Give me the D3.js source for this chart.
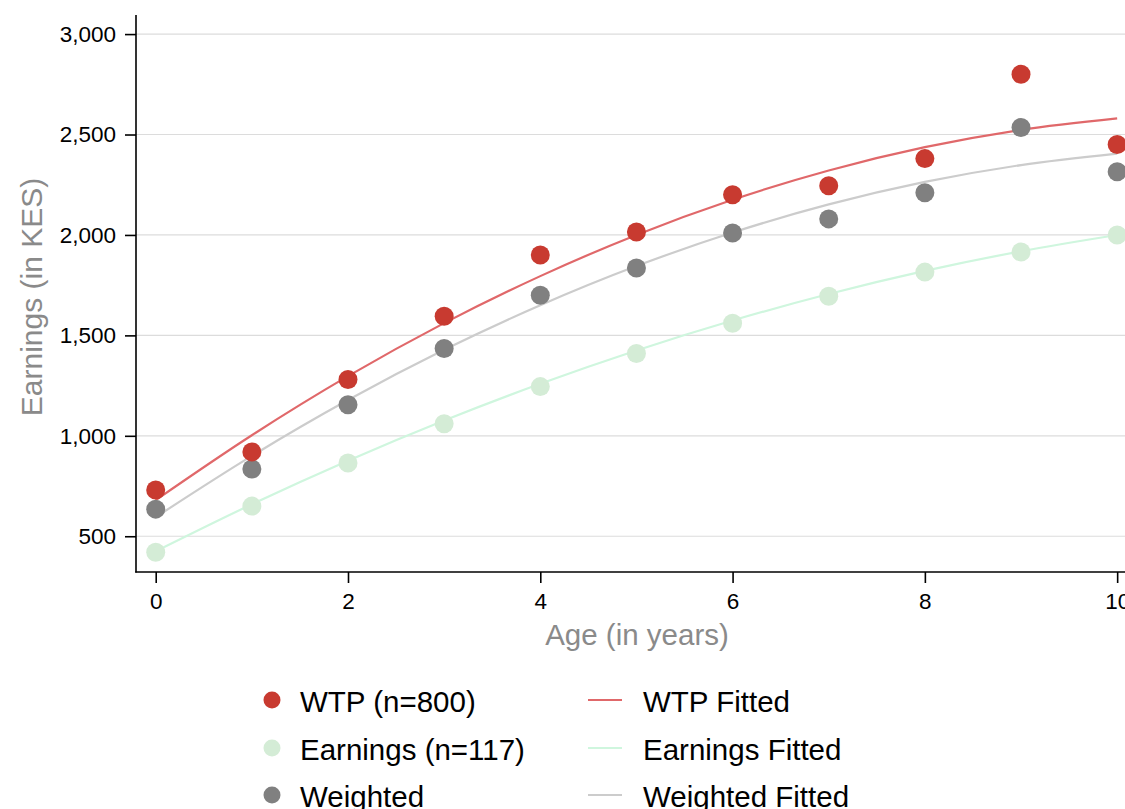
<!DOCTYPE html>
<html>
<head>
<meta charset="utf-8">
<script src="https://cdn.jsdelivr.net/npm/d3@7"></script>
<style>
  body { margin: 0; background: #fff; }
  svg { font-family: "Liberation Sans", Arial, Helvetica, sans-serif; }
</style>
</head>
<body>
<svg id="chart" width="1125" height="809"></svg>
<script>
const ages = [0, 1, 2, 3, 4, 5, 6, 7, 8, 9, 10]
const wtp = [730, 920, 1280, 1595, 1900, 2015, 2200, 2245, 2380, 2800, 2450]
const earnings = [420, 650, 865, 1060, 1245, 1410, 1560, 1695, 1815, 1915, 2000]
const weighted = [635, 835, 1155, 1435, 1700, 1835, 2010, 2080, 2210, 2535, 2315]
const wtpFitted = [680, 1003, 1297, 1561, 1795, 2000, 2175, 2321, 2437, 2523, 2580]
const earningsFitted = [425, 659, 876, 1076, 1259, 1425, 1574, 1706, 1821, 1919, 2000]
const weightedFitted = [595, 900, 1178, 1428, 1650, 1845, 2012, 2152, 2264, 2348, 2405]
const xTicks = [0, 2, 4, 6, 8, 10]
const yTicks = [500, 1000, 1500, 2000, 2500, 3000]

const series = [
    { name: 'WTP (n=800)', values: wtp, color: '#c83a30' },
    { name: 'Earnings (n=117)', values: earnings, color: '#d4ecd6' },
    { name: 'Weighted', values: weighted, color: '#808080' }
]
const fits = [
    { name: 'WTP Fitted', values: wtpFitted, color: '#e0686a' },
    { name: 'Earnings Fitted', values: earningsFitted, color: '#cff6de' },
    { name: 'Weighted Fitted', values: weightedFitted, color: '#cccccc' }
]

const svg = d3.select('#chart')

const xScale = d3.scaleLinear().domain([-0.205, 10.3]).range([136, 1146])
const yScale = d3.scaleLinear().domain([322, 3095]).range([572, 15])

// gridlines
svg.append('g')
    .selectAll('line')
    .data(yTicks)
    .join('line')
        .attr('x1', 136)
        .attr('x2', 1125)
        .attr('y1', d => yScale(d))
        .attr('y2', d => yScale(d))
        .attr('stroke', '#dcdcdc')
        .attr('stroke-width', 1.2)

// fitted lines
const line = d3.line()
    .x((d, i) => xScale(ages[i]))
    .y(d => yScale(d))
    .curve(d3.curveMonotoneX)

svg.append('g')
    .selectAll('path')
    .data(fits)
    .join('path')
        .attr('d', d => line(d.values))
        .attr('fill', 'none')
        .attr('stroke', d => d.color)
        .attr('stroke-width', 2.2)

// points: earnings first, then weighted, then wtp on top
const order = [series[1], series[2], series[0]]
svg.append('g')
    .selectAll('g')
    .data(order)
    .join('g')
        .attr('fill', d => d.color)
    .selectAll('circle')
    .data(d => d.values)
    .join('circle')
        .attr('cx', (d, i) => xScale(ages[i]))
        .attr('cy', d => yScale(d))
        .attr('r', 9.5)

// axes
const xAxis = d3.axisBottom(xScale).tickValues(xTicks).tickSize(11).tickPadding(10).tickFormat(d3.format('d'))
const yAxis = d3.axisLeft(yScale).tickValues(yTicks).tickSize(11).tickPadding(9).tickFormat(d3.format(','))

svg.append('g')
    .attr('transform', 'translate(0, 572)')
    .call(xAxis)
svg.append('g')
    .attr('transform', 'translate(136, 0)')
    .call(yAxis)

svg.selectAll('.domain').remove()
svg.append('line').attr('x1', 136).attr('x2', 136).attr('y1', 15).attr('y2', 572.5)
    .attr('stroke', '#000').attr('stroke-width', 1.6)
svg.append('line').attr('x1', 135.2).attr('x2', 1125).attr('y1', 572).attr('y2', 572)
    .attr('stroke', '#000').attr('stroke-width', 1.6)

svg.selectAll('.tick line').attr('stroke', '#000').attr('stroke-width', 1.6)
svg.selectAll('.tick text').attr('font-size', 22.5).attr('fill', '#000')
    .attr('font-family', '"Liberation Sans", Arial, sans-serif')

// axis titles
svg.append('text')
    .attr('x', 637)
    .attr('y', 645)
    .attr('text-anchor', 'middle')
    .attr('font-size', 29.5)
    .attr('fill', '#8a8a8a')
    .text('Age (in years)')

svg.append('text')
    .attr('transform', 'translate(42, 297) rotate(-90)')
    .attr('text-anchor', 'middle')
    .attr('font-size', 30)
    .attr('fill', '#8a8a8a')
    .text('Earnings (in KES)')

// legend
const rowY = [700, 748, 795]
const legend = svg.append('g')

legend.selectAll('circle')
    .data(series)
    .join('circle')
        .attr('cx', 272)
        .attr('cy', (d, i) => rowY[i])
        .attr('r', 8.5)
        .attr('fill', d => d.color)

legend.selectAll('text.s')
    .data(series)
    .join('text')
        .attr('class', 's')
        .attr('x', 300)
        .attr('y', (d, i) => rowY[i] + 12)
        .attr('font-size', 29.5)
        .attr('fill', '#000')
        .text(d => d.name)

legend.selectAll('line')
    .data(fits)
    .join('line')
        .attr('x1', 588)
        .attr('x2', 622)
        .attr('y1', (d, i) => rowY[i])
        .attr('y2', (d, i) => rowY[i])
        .attr('stroke', d => d.color)
        .attr('stroke-width', 2.2)

legend.selectAll('text.f')
    .data(fits)
    .join('text')
        .attr('class', 'f')
        .attr('x', 643)
        .attr('y', (d, i) => rowY[i] + 12)
        .attr('font-size', 29.5)
        .attr('fill', '#000')
        .text(d => d.name)
</script>
</body>
</html>
